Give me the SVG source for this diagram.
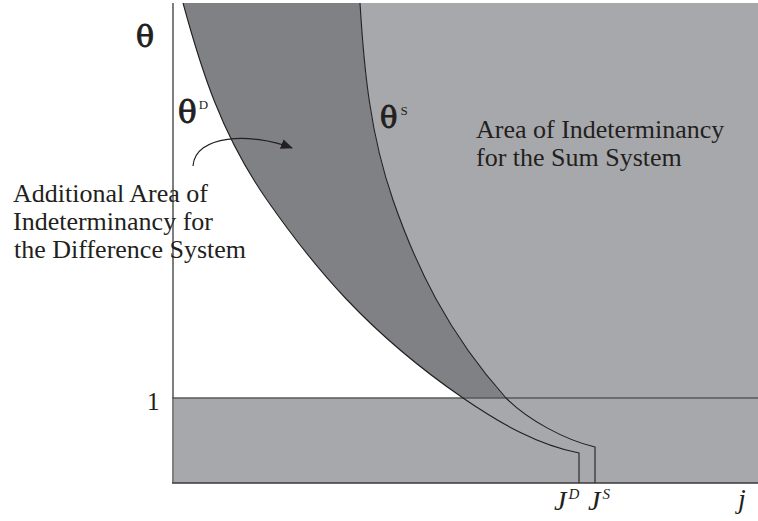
<svg xmlns="http://www.w3.org/2000/svg" width="758" height="521" viewBox="0 0 758 521">
<defs>
<style>
.t{font-family:"Liberation Serif","Times New Roman",serif;fill:#231f20}
.th{font-family:"DejaVu Serif","Liberation Serif",serif;fill:#231f20;stroke:#231f20;stroke-width:0.9}
.sup{font-family:"Liberation Serif","Times New Roman",serif;stroke:none}
.lab{font-size:26px}
.curve{fill:none;stroke:#231f20;stroke-width:1.1}
.ax{fill:none;stroke:#3a3a3c;stroke-width:1.3}
</style>
<marker id="ah" viewBox="0 0 12 10" refX="11" refY="5" markerWidth="12" markerHeight="10" markerUnits="userSpaceOnUse" orient="auto">
<path d="M0,0 L12,5 L0,10 Z" fill="#231f20"/>
</marker>
</defs>
<rect width="758" height="521" fill="#ffffff"/>
<g id="regions">
<path id="sum-area" d="M360,3 C364,69 370,134 393,200 C416,266 447,332 506,398 L758,398 L758,3 Z" fill="#a7a8ab"/>
<path id="diff-area" d="M183,3 C201,69 221,134 267,200 C313,266 367,332 463,398 L506,398 C447,332 416,266 393,200 C370,134 364,69 360,3 Z" fill="#808184"/>
<rect id="lower-band" x="174" y="398" width="584" height="85" fill="#a7a8ab"/>
</g>
<g id="axes">
<line class="ax" x1="173" y1="3" x2="173" y2="483" stroke="#6d6e70"/>
<line class="ax" x1="172" y1="483" x2="758" y2="483" stroke-width="1.6"/>
<line id="one-line" x1="172" y1="398" x2="758" y2="398" stroke="#58585a" stroke-width="1.6"/>
</g>
<g id="connectors">
<path id="theta-D" class="curve" d="M183,3 C201,69 221,134 267,200 C313,266 367,332 463,398 C501,424 538,445 579,453 L579,483"/>
<path id="theta-S" class="curve" d="M360,3 C364,69 370,134 393,200 C416,266 447,332 506,398 C528,420 565,440 595,447 L595,483"/>
<path id="arrow" d="M193,166 C195,135 250,132 292,148" fill="none" stroke="#231f20" stroke-width="1.2" marker-end="url(#ah)"/>
</g>
<g id="labels">
<text class="th" x="136" y="47" font-size="30">θ</text>
<g id="label-thetaD"><text class="th" x="178" y="123" font-size="31">θ<tspan class="sup" font-size="13" dy="-14" dx="2">D</tspan></text></g>
<g id="label-thetaS"><text class="th" x="380" y="128" font-size="29">θ<tspan class="sup" font-size="13" dy="-13" dx="3">S</tspan></text></g>
<g id="sum-label"><text class="t lab" x="476" y="138">Area of Indeterminancy</text>
<text class="t lab" x="476" y="166">for the Sum System</text></g>
<g id="diff-label"><text class="t lab" x="13" y="202">Additional Area of</text>
<text class="t lab" x="13" y="230">Indeterminancy for</text>
<text class="t lab" x="14" y="258">the Difference System</text></g>
<text class="t" x="147" y="410" font-size="25">1</text>
<text class="t" x="554" y="510" font-size="28" font-style="italic">J<tspan font-size="15" dy="-11" dx="2">D</tspan></text>
<text class="t" x="588" y="510" font-size="28" font-style="italic">J<tspan font-size="15" dy="-11" dx="2">S</tspan></text>
<text class="t" x="738" y="508" font-size="28" font-style="italic">j</text>
</g>
</svg>
